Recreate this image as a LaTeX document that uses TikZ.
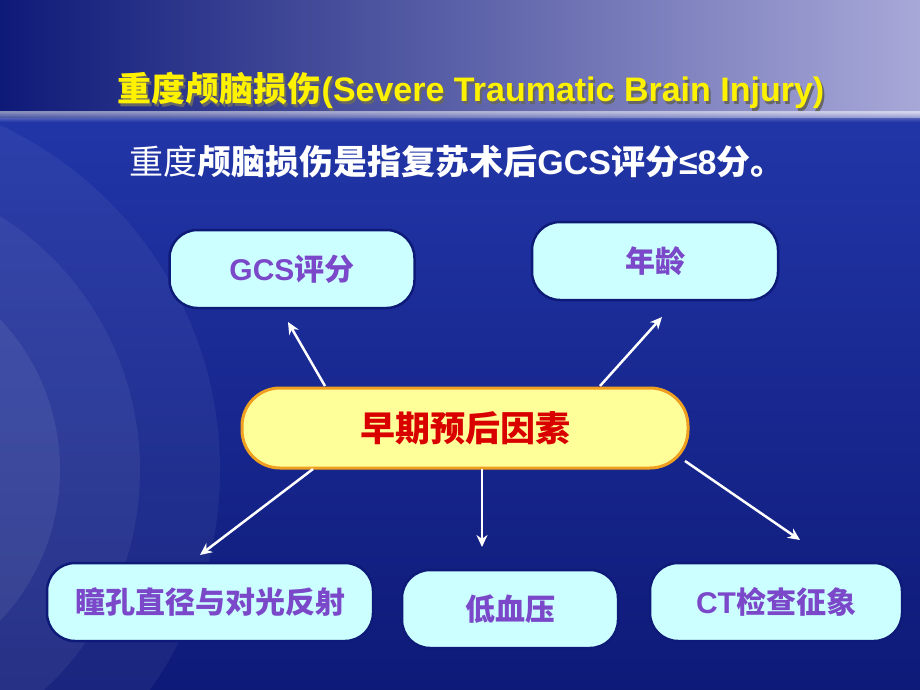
\documentclass[tikz,border=0pt]{standalone}
\usepackage{fontspec}
\setmainfont{Liberation Sans}
\newfontfamily\cjk{Noto Sans CJK SC}
\usetikzlibrary{shadows,arrows.meta}
\definecolor{bgdark}{HTML}{0E1A78}
\definecolor{bgmid}{HTML}{2236A8}
\definecolor{lav}{HTML}{A8A8D8}
\definecolor{boxfill}{HTML}{CCFFFF}
\definecolor{boxtext}{HTML}{7A48C8}
\definecolor{coreborder}{HTML}{F0A020}
\definecolor{corefill}{HTML}{FFFF99}
\begin{document}
\begin{tikzpicture}[x=1pt,y=-1pt,
  box/.style={draw=bgdark,line width=2.5pt,fill=boxfill,rounded corners=28pt,text=boxtext,font=\cjk\bfseries\fontsize{30}{32}\selectfont},
  core/.style={draw=coreborder,line width=3pt,fill=corefill,rounded corners=38pt,text=red!85!black,font=\cjk\bfseries\fontsize{35}{38}\selectfont},
  arr/.style={white,line width=2.5pt,-{Stealth[length=12pt,width=11pt]}}]
\useasboundingbox (0,0) rectangle (920,690);
\shade[top color=bgmid,bottom color=bgdark] (0,110) rectangle (920,690);
\begin{scope}
\clip (0,110) rectangle (920,690);
\foreach \r/\o in {380/0.05,300/0.06,220/0.07,140/0.08}
  \fill[white,opacity=\o] (-160,470) circle (\r);
\end{scope}
\shade[left color=bgdark,right color=lav] (0,0) rectangle (920,118);
\shade[top color=white,bottom color=bgmid,opacity=0.5] (0,112) rectangle (920,122);
\node[font=\bfseries\fontsize{34}{38}\selectfont,text=black!60] at (473,93) {\cjk 重度颅脑损伤\rmfamily(Severe Traumatic Brain Injury)};
\node[font=\bfseries\fontsize{34}{38}\selectfont,text=yellow] (title) at (471,90) {\cjk 重度颅脑损伤\rmfamily(Severe Traumatic Brain Injury)};
\node[text=white,font=\fontsize{34}{38}\selectfont] (sub) at (457,162) {\cjk 重度\bfseries 颅脑损伤是指复苏术后\rmfamily GCS\cjk 评分\rmfamily≤8\cjk 分。};
\node[box,minimum width=245pt,minimum height=78pt] (gcs) at (292,269) {\rmfamily\bfseries GCS\cjk 评分};
\node[box,minimum width=246pt,minimum height=78pt] (age) at (655,261) {年龄};
\node[core,minimum width=446pt,minimum height=80pt] (core) at (465,428) {早期预后因素};
\node[box,minimum width=326pt,minimum height=78pt] (pupil) at (210,602) {瞳孔直径与对光反射};
\node[box,minimum width=216pt,minimum height=78pt] (bp) at (510,609) {低血压};
\node[box,minimum width=252pt,minimum height=78pt] (ct) at (776,602) {\rmfamily\bfseries CT\cjk 检查征象};
\coordinate (a1) at (288,322); \coordinate (a2) at (662,317);
\coordinate (a3) at (200,555); \coordinate (a4) at (482,547); \coordinate (a5) at (800,540);
\coordinate (s1) at (325,386); \coordinate (s2) at (600,386);
\coordinate (s3) at (313,469); \coordinate (s4) at (482,469); \coordinate (s5) at (685,461);
\draw[arr] (s1) -- (a1);
\draw[arr] (s2) -- (a2);
\draw[arr] (s3) -- (a3);
\draw[arr] (s4) -- (a4);
\draw[arr] (s5) -- (a5);
\end{tikzpicture}
\end{document}
